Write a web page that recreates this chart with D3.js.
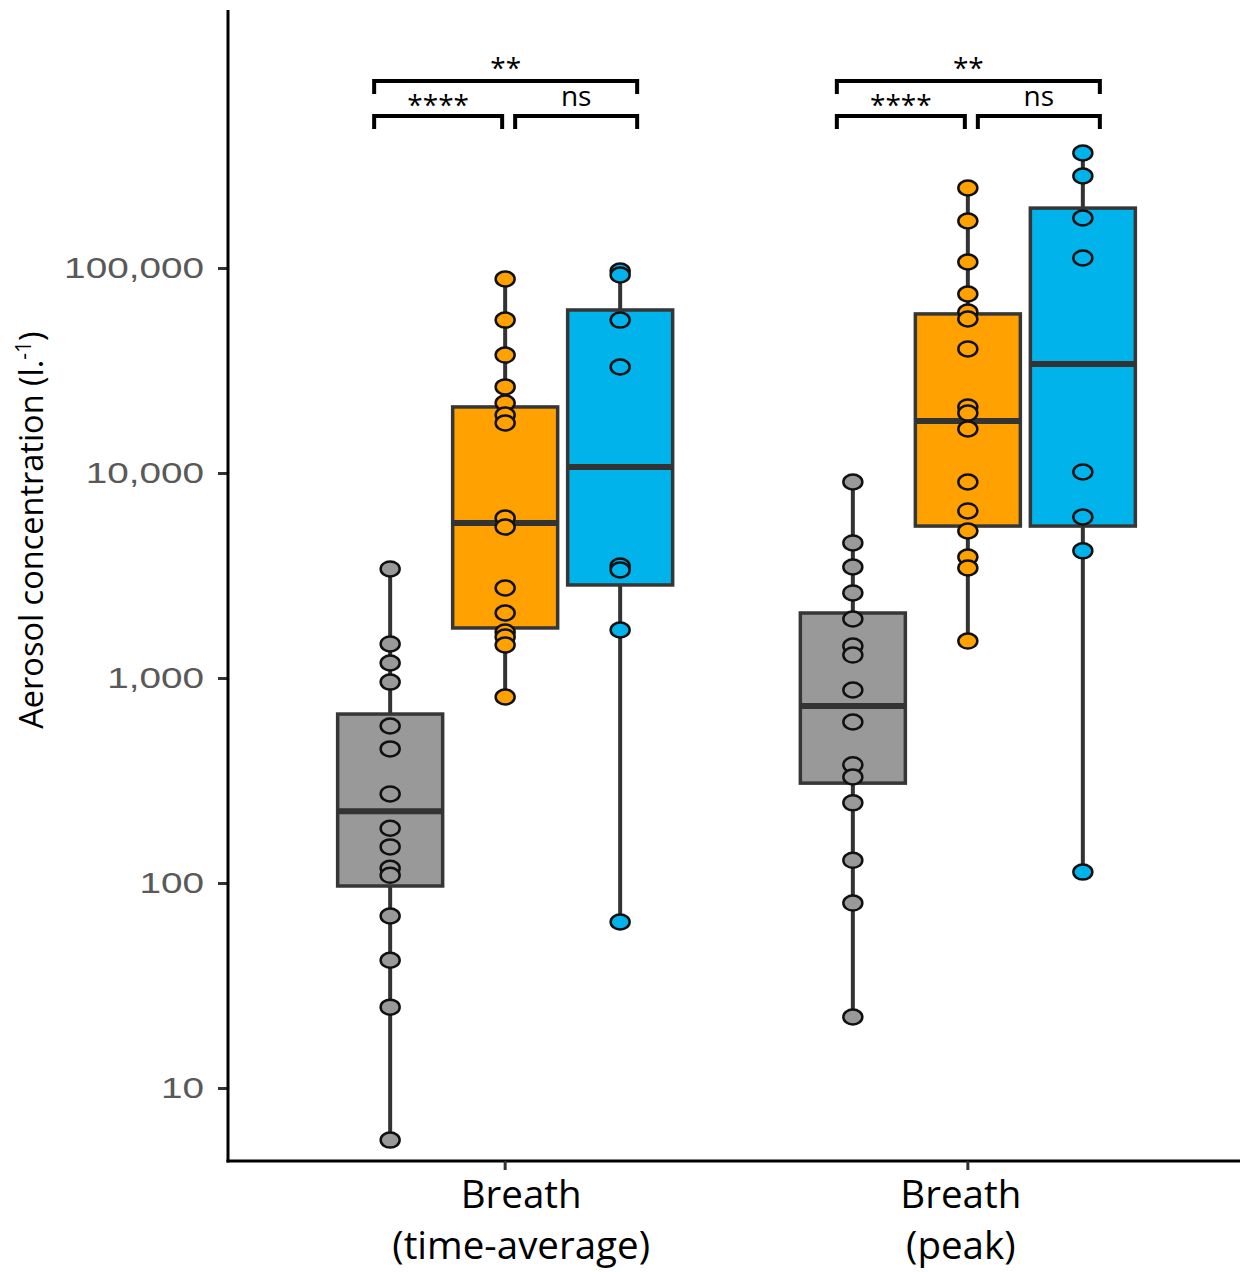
<!DOCTYPE html>
<html>
<head>
<meta charset="utf-8">
<script src="https://cdn.jsdelivr.net/npm/d3@7"></script>
<style>
	body { margin: 0; background: #fff; }
	svg { display: block; }
</style>
</head>
<body>
<div id="chart"></div>
<script>
(function() {
	// Data
	var groups = ["time-average", "peak"];
	var groupLabels = [["Breath", "(time-average)"], ["Breath", "(peak)"]];
	var series = ["grey", "orange", "blue"];

	// individual points, per group then per series
	var timeGrey = [3404, 1466, 1183, 955, 583, 451, 272, 185, 150, 118, 109, 69, 42, 24.8, 5.57];
	var timeOrange = [88400, 55700, 37600, 26300, 21950, 19170, 17540, 6030, 5450, 2748, 2075, 1676, 1585, 1449, 808];
	var timeBlue = [96700, 92400, 55700, 32900, 3517, 3365, 1714, 64.5];
	var peakGrey = [9040, 4560, 3478, 2600, 1941, 1432, 1294, 874, 610, 377, 329, 246, 129, 79.8, 22.2];
	var peakOrange = [245500, 169500, 107000, 74700, 61000, 56400, 40300, 21000, 19600, 16400, 9040, 6530, 5210, 3890, 3440, 1514];
	var peakBlue = [364000, 281000, 175400, 111900, 10110, 6100, 4170, 113];

	// box statistics (lower hinge, median, upper hinge)
	var q1Time = [96.7, 1754, 2843];
	var medTime = [224, 5700, 10700];
	var q3Time = [667, 21000, 62400];
	var q1Peak = [307, 5510, 5510];
	var medPeak = [730, 17940, 34000];
	var q3Peak = [2075, 59700, 196000];

	var yTicks = [10, 100, 1000, 10000, 100000];

	// significance brackets: from series, to series, row, label
	var sigFrom = [0, 0, 1];
	var sigTo = [2, 1, 2];
	var sigRow = [0, 1, 1];
	var sigLabel = ["**", "****", "ns"];

	var points = [[timeGrey, timeOrange, timeBlue], [peakGrey, peakOrange, peakBlue]];
	var q1 = [q1Time, q1Peak], med = [medTime, medPeak], q3 = [q3Time, q3Peak];

	var width = 1241;
	var height = 1272;
	var left = 228, right = 1240, top = 10, bottom = 1161;
	var fills = { grey: "#999999", orange: "#FFA100", blue: "#00B3EA" };

	var svg = d3.select("#chart")
		.append("svg")
		.attr("width", width)
		.attr("height", height);

	var x = d3.scalePoint()
		.domain(groups)
		.range([left, right + 5])
		.padding(0.599);
	var xs = d3.scaleBand()
		.domain(series)
		.range([-172.5, 172.5]);
	var y = d3.scaleLog()
		.domain([10, 100000])
		.range([1088, 268]);

	var boxW = 105;

	// flatten into one record per box
	var boxes = [];
	groups.forEach(function(g, gi) {
		series.forEach(function(s, si) {
			var ext = d3.extent(points[gi][si]);
			boxes.push({
				group: g, series: s,
				cx: x(g) + xs(s) + xs.bandwidth() / 2,
				lo: ext[0], hi: ext[1],
				q1: q1[gi][si], med: med[gi][si], q3: q3[gi][si],
				pts: points[gi][si]
			});
		});
	});

	var g = svg.append("g");

	// whiskers
	g.selectAll("line.whisk-hi")
		.data(boxes)
		.enter()
		.append("line")
		.attr("x1", function(d) { return d.cx; })
		.attr("x2", function(d) { return d.cx; })
		.attr("y1", function(d) { return y(d.q3); })
		.attr("y2", function(d) { return y(d.hi); })
		.attr("stroke", "#333")
		.attr("stroke-width", 4);
	g.selectAll("line.whisk-lo")
		.data(boxes)
		.enter()
		.append("line")
		.attr("x1", function(d) { return d.cx; })
		.attr("x2", function(d) { return d.cx; })
		.attr("y1", function(d) { return y(d.q1); })
		.attr("y2", function(d) { return y(d.lo); })
		.attr("stroke", "#333")
		.attr("stroke-width", 4);

	// boxes
	g.selectAll("rect")
		.data(boxes)
		.enter()
		.append("rect")
		.attr("x", function(d) { return d.cx - boxW / 2; })
		.attr("width", boxW)
		.attr("y", function(d) { return y(d.q3); })
		.attr("height", function(d) { return y(d.q1) - y(d.q3); })
		.attr("fill", function(d) { return fills[d.series]; })
		.attr("stroke", "#363636")
		.attr("stroke-width", 3.5);

	// medians
	g.selectAll("line.median")
		.data(boxes)
		.enter()
		.append("line")
		.attr("x1", function(d) { return d.cx - boxW / 2; })
		.attr("x2", function(d) { return d.cx + boxW / 2; })
		.attr("y1", function(d) { return y(d.med); })
		.attr("y2", function(d) { return y(d.med); })
		.attr("stroke", "#333")
		.attr("stroke-width", 6);

	// points
	boxes.forEach(function(b) {
		g.selectAll(null)
			.data(b.pts)
			.enter()
			.append("ellipse")
			.attr("cx", b.cx)
			.attr("cy", function(d) { return y(d); })
			.attr("rx", 9.5)
			.attr("ry", 7.5)
			.attr("fill", fills[b.series])
			.attr("stroke", "#111")
			.attr("stroke-width", 2.5);
	});

	// axes
	var yAxis = svg.append("g")
		.attr("transform", "translate(" + left + ",0)")
		.call(d3.axisLeft(y).tickValues(yTicks).tickFormat(d3.format(",")).tickSize(10).tickPadding(14));
	yAxis.select(".domain").remove();
	yAxis.selectAll(".tick line").attr("stroke", "#333").attr("stroke-width", 3);
	yAxis.selectAll(".tick text")
		.attr("fill", "#595959")
		.style("font-family", "'Liberation Sans', Arial, sans-serif")
		.style("font-size", "30px")
		.each(function() {
			// the figure is a little stretched horizontally
			var w = this.getComputedTextLength();
			d3.select(this).attr("textLength", w * 1.29).attr("lengthAdjust", "spacingAndGlyphs");
		});

	svg.append("line")
		.attr("x1", left).attr("x2", left)
		.attr("y1", top).attr("y2", bottom + 1.5)
		.attr("stroke", "#000").attr("stroke-width", 3);
	svg.append("line")
		.attr("x1", left - 1.5).attr("x2", right)
		.attr("y1", bottom).attr("y2", bottom)
		.attr("stroke", "#000").attr("stroke-width", 3);

	// x ticks and labels
	var labelShift = [16, -7];
	groups.forEach(function(grp, gi) {
		svg.append("line")
			.attr("x1", x(grp)).attr("x2", x(grp))
			.attr("y1", bottom).attr("y2", bottom + 9)
			.attr("stroke", "#333").attr("stroke-width", 3);
		groupLabels[gi].forEach(function(t, li) {
			svg.append("text")
				.attr("x", x(grp) + labelShift[gi])
				.attr("y", 1208 + li * 51)
				.attr("text-anchor", "middle")
				.style("font-family", "'Open Sans', sans-serif")
				.style("font-size", "38.5px")
				.attr("fill", "#000")
				.text(t);
		});
	});

	// y title
	var title = svg.append("text")
		.attr("transform", "translate(43,530) rotate(-90)")
		.attr("text-anchor", "middle")
		.style("font-family", "'Open Sans', sans-serif")
		.style("font-size", "32.5px")
		.attr("fill", "#000");
	title.append("tspan").text("Aerosol concentration (l.");
	title.append("tspan").attr("dy", -12).style("font-size", "21px").text("-1");
	title.append("tspan").attr("dy", 12).text(")");

	// significance brackets
	var rowY = [81, 116];
	var labelDy = [-3, -1];
	sigLabel.forEach(function(lab, i) {
		groups.forEach(function(grp) {
			var c1 = x(grp) + xs(series[sigFrom[i]]) + xs.bandwidth() / 2;
			var c2 = x(grp) + xs(series[sigTo[i]]) + xs.bandwidth() / 2;
			var x1 = sigFrom[i] === 0 ? c1 - 16 : c1 + 10;
			var x2 = sigTo[i] === 2 ? c2 + 17 : c2 - 3;
			var yy = rowY[sigRow[i]];
			svg.append("path")
				.attr("d", "M" + x1 + "," + (yy + 13) + "V" + yy + "H" + x2 + "V" + (yy + 13))
				.attr("fill", "none")
				.attr("stroke", "#000")
				.attr("stroke-width", 4);
			svg.append("text")
				.attr("x", (x1 + x2) / 2)
				.attr("y", lab === "ns" ? yy - 10 : yy + labelDy[sigRow[i]])
				.attr("text-anchor", "middle")
				.style("font-family", "'Open Sans', sans-serif")
				.style("font-size", "28px")
				.attr("fill", "#000")
				.text(lab);
		});
	});
})();
</script>
</body>
</html>
